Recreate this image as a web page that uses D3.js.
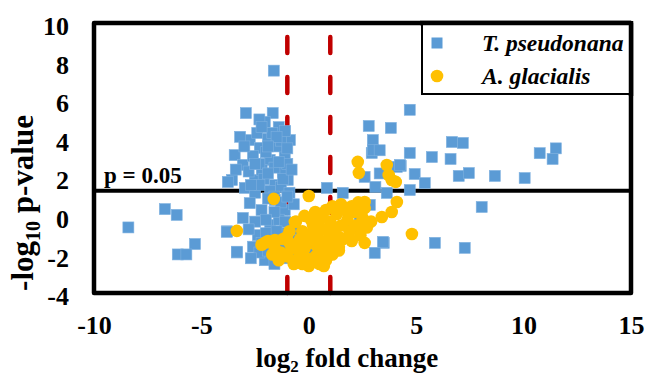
<!DOCTYPE html>
<html>
<head>
<meta charset="utf-8">
<script src="https://cdn.jsdelivr.net/npm/d3@7"></script>
<style>
  body { margin: 0; background: #fff; }
  svg text { font-family: "Liberation Serif", "Times New Roman", serif !important; font-weight: bold; }
</style>
</head>
<body>
<div id="chart"></div>
<script>
const width = 647;
const height = 376;

// T. pseudonana [log2 fold change, -log10 p-value]
const tPseudonana = [
    [-8.4, -0.6], [-6.7, 0.35], [-6.15, 0.05], [-5.3, -1.46], [-6.1, -2.0], [-5.7, -2.0],
    [-3.8, -0.8], [-3.35, -1.9], [-1.63, 7.53],
    [10.05, 1.96], [10.75, 3.25], [11.5, 3.5], [11.35, 2.95], [8.66, 2.07], [8.05, 0.46],
    [7.26, -1.66], [5.87, -1.4], [6.66, 3.83], [7.17, 3.78], [6.98, 2.07], [7.45, 2.22],
    [6.6, 2.95], [5.73, 3.05], [4.7, 5.5], [3.82, 4.56], [4.7, 3.26], [4.28, 2.59],
    [4.93, 2.17], [5.4, 1.7], [4.7, 1.34], [3.63, 1.19], [3.49, -1.4], [2.93, 3.26],
    [2.79, 4.66], [2.98, 3.93], [2.98, 3.42], [4.1, 2.54], [2.6, 2.02], [4.24, 2.64],
    [3.3, 3.4], [0.84, 1.45], [1.58, 1.19], [2.05, -0.63], [3.07, -1.92], [3.45, -1.35],
    [0.98, -1.25], [0.05, -1.77], [-0.42, -1.0], [2.37, 0.05], [2.84, 0.57], [3.1, 1.5], [3.3, 2.2],
    [-2.93, 5.33], [-1.68, 5.33], [-1.4, 4.6], [-2.05, 4.87], [-2.75, 3.93], [-3.2, 4.1],
    [-3.45, 3.15], [-3.07, 2.64], [-3.58, 1.86], [-3.77, 1.76], [-2.28, 3.52], [-1.82, 2.9],
    [-1.21, 2.27], [-2.51, 1.86], [-1.12, 3.15], [-2.19, 2.38], [-1.58, 1.6], [-2.98, 1.45],
    [-0.88, 3.93], [-0.98, 1.86], [-2.4, 4.3], [-1.9, 4.0], [-1.5, 3.6], [-2.6, 3.1],
    [-2.0, 3.3], [-1.3, 3.9], [-2.3, 2.7], [-1.6, 2.5], [-1.0, 2.7], [-2.8, 2.3],
    [-2.1, 1.9], [-1.3, 1.5], [-0.9, 1.2], [-2.5, 1.2], [-1.8, 1.3], [-3.4, 2.4],
    [-3.0, 3.6], [-2.3, 5.0], [-1.7, 4.3], [-1.1, 4.4],
    [-2.2, 4.6], [-1.5, 4.1], [-1.9, 3.6], [-2.5, 2.7], [-1.4, 2.8], [-1.9, 2.2],
    [-1.2, 1.9], [-2.3, 1.6], [-1.6, 1.0], [-2.7, 1.6], [-0.8, 2.4], [-1.0, 3.5],
    [-2.75, 0.66], [-3.07, -0.11], [-3.82, -0.83], [-3.35, -1.86], [-2.6, -1.6], [-2.05, -2.3],
    [-1.35, -2.0], [-0.88, -1.25], [-1.8, -0.47], [-2.37, -1.0], [-1.12, 0.3], [-0.65, -0.47],
    [-1.58, 0.82], [-2.2, 0.3], [-1.9, 0.9], [-1.3, 0.7], [-2.5, -0.3], [-1.4, -0.2],
    [-2.0, -0.9], [-1.1, -0.9], [-2.8, -0.7], [-1.7, -1.4], [-2.3, -1.9], [-1.2, -1.6],
    [-0.9, -2.2], [-2.7, -2.2], [-1.6, -2.5], [-0.7, 0.6], [-1.0, 1.0],
    [-1.6, 0.2], [-2.0, -0.2], [-1.1, -0.3], [-1.5, -0.8], [-2.2, -1.4], [-1.9, -1.8]
];

// A. glacialis
const aGlacialis = [
    [-1.63, 0.88], [0.0, 1.03], [-3.35, -0.78], [4.8, -0.94], [4.1, 0.72], [3.86, 0.2],
    [3.4, -0.06], [2.6, 0.72], [2.28, 2.8], [2.33, 2.23], [3.63, 2.64], [3.72, 2.12],
    [4.05, 1.76], [3.86, 1.86], [-2.05, -1.4], [-1.58, -1.25], [-1.02, -1.09], [-0.65, -0.32],
    [-2.2, -1.5], [-1.9, -1.3], [-1.6, -1.6], [-1.3, -1.9], [-1.0, -2.1], [-0.8, -1.7],
    [-0.6, -2.3], [-0.4, -2.0], [-0.3, -2.5], [-0.1, -2.2], [0.0, -2.6], [0.2, -2.4],
    [0.3, -2.1], [0.5, -2.5], [0.6, -1.9], [0.8, -2.3], [0.9, -1.7], [1.1, -2.0],
    [1.2, -1.5], [1.4, -1.8], [-1.2, -1.2], [-0.9, -1.4], [-0.5, -1.5], [-0.2, -1.7],
    [0.1, -1.4], [0.4, -1.6], [-1.7, -2.0], [-1.4, -2.3], [-0.7, -2.5], [0.7, -2.6],
    [-0.6, -0.3], [-0.3, -0.8], [0.0, -1.0], [0.2, -0.5], [0.4, -1.1], [0.5, -0.2],
    [0.7, -0.7], [0.9, -1.2], [1.0, -0.3], [1.2, -0.9], [1.3, 0.1], [1.5, -0.5],
    [1.6, -1.2], [1.8, -0.2], [1.9, -0.8], [2.1, 0.2], [2.2, -0.5], [2.4, -1.0],
    [2.5, -0.1], [2.7, -0.6], [2.9, -0.3], [2.6, -1.4], [1.1, 0.5], [0.8, 0.3],
    [1.5, 0.6], [1.7, 0.3], [2.0, 0.5], [0.3, 0.2], [-0.2, 0.0], [-0.9, -0.8],
    [0.6, -1.4], [1.4, -1.6], [2.0, -1.3], [2.3, 0.7], [2.6, 0.4],
    [0.1, -0.2], [0.6, 0.0], [1.0, -0.6], [1.4, -1.1], [0.3, -0.8], [-0.4, -1.2]
];

const xTicks = [-10, -5, 0, 5, 10, 15];
const yTicks = [-4, -2, 0, 2, 4, 6, 8, 10];
const foldCut = [-1, 1];
const pCut = -Math.log10(0.05);
const seriesNames = ["T. pseudonana", "A. glacialis"];

const serif = '"Liberation Serif", "Times New Roman", serif';
const blue = "#5b9bd5";
const gold = "#ffc000";

let svg = d3.select("#chart").append("svg")
    .attr("width", width)
    .attr("height", height)
    .attr("font-family", serif);

let x = d3.scaleLinear().domain([-10, 15]).range([94, 631]);
let y = d3.scaleLinear().domain([-4, 10]).range([293, 23]);

// axes (labels only, no tick marks), plain hyphen for negatives
let xAxis = svg.append("g")
    .attr("transform", `translate(0,${y(-4)})`)
    .call(d3.axisBottom(x).tickValues(xTicks).tickFormat(d => String(d)).tickSize(0).tickPadding(23));
let yAxis = svg.append("g")
    .attr("transform", `translate(${x(-10)},0)`)
    .call(d3.axisLeft(y).tickValues(yTicks).tickFormat(d => String(d)).tickSize(0).tickPadding(25));
[xAxis, yAxis].forEach(a => {
    a.attr("font-family", serif).attr("font-size", 26).attr("font-weight", "bold");
    a.select(".domain").remove();
    a.selectAll("text").attr("fill", "#000");
});
yAxis.selectAll("text").attr("dy", "0.45em");

// threshold lines
svg.selectAll(".fold")
    .data(foldCut)
    .enter()
    .append("line")
    .attr("x1", d => x(d)).attr("x2", d => x(d))
    .attr("y1", y(10)).attr("y2", y(-4))
    .attr("stroke", "#c00000")
    .attr("stroke-width", 4.5)
    .attr("stroke-linecap", "round")
    .attr("stroke-dasharray", "16,24")
    .attr("stroke-dashoffset", 26);

svg.append("line")
    .attr("x1", x(-10)).attr("x2", x(15))
    .attr("y1", y(pCut)).attr("y2", y(pCut))
    .attr("stroke", "#000")
    .attr("stroke-width", 4);

svg.append("text")
    .attr("x", 104).attr("y", 183)
    .attr("font-size", 23)
    .text("p = 0.05");

// points
const sq = 11;
svg.append("g").selectAll("rect")
    .data(tPseudonana)
    .enter()
    .append("rect")
    .attr("x", d => x(d[0]) - sq / 2)
    .attr("y", d => y(d[1]) - sq / 2)
    .attr("width", sq).attr("height", sq)
    .attr("fill", blue)
    .attr("stroke", "#7fb1e0")
    .attr("stroke-width", 0.6);

svg.append("g").selectAll("circle")
    .data(aGlacialis)
    .enter()
    .append("circle")
    .attr("cx", d => x(d[0]))
    .attr("cy", d => y(d[1]))
    .attr("r", 6.3)
    .attr("fill", gold);

// frame
svg.append("rect")
    .attr("x", x(-10)).attr("y", y(10))
    .attr("width", x(15) - x(-10)).attr("height", y(-4) - y(10))
    .attr("fill", "none")
    .attr("stroke", "#000")
    .attr("stroke-width", 4.5)
    .attr("stroke-linejoin", "round");

// legend
let legend = svg.append("g");
legend.append("rect")
    .attr("x", 422).attr("y", y(10))
    .attr("width", x(15) - 422).attr("height", 94 - y(10))
    .attr("fill", "#fff")
    .attr("stroke", "#000")
    .attr("stroke-width", 2);
legend.append("line")
    .attr("x1", 420).attr("x2", x(15))
    .attr("y1", y(10)).attr("y2", y(10))
    .attr("stroke", "#000").attr("stroke-width", 4.5);
legend.append("line")
    .attr("x1", x(15)).attr("x2", x(15))
    .attr("y1", y(10) - 2).attr("y2", 96)
    .attr("stroke", "#000").attr("stroke-width", 4.5);
legend.append("rect")
    .attr("x", 437 - 5.5).attr("y", 43 - 5.5)
    .attr("width", sq).attr("height", sq)
    .attr("fill", blue);
legend.append("circle")
    .attr("cx", 437).attr("cy", 76).attr("r", 6.3)
    .attr("fill", gold);
legend.selectAll(".lab")
    .data(seriesNames)
    .enter()
    .append("text")
    .attr("x", 482)
    .attr("y", (d, i) => 51 + i * 33)
    .attr("font-size", 23.5)
    .attr("font-style", "italic")
    .text(d => d);

// axis titles
let xt = svg.append("text")
    .attr("x", 347).attr("y", 367)
    .attr("text-anchor", "middle")
    .attr("font-size", 27);
xt.append("tspan").text("log");
xt.append("tspan").attr("dy", 5).attr("font-size", 17).text("2");
xt.append("tspan").attr("dy", -5).text(" fold change");

let yt = svg.append("text")
    .attr("transform", "translate(33,203) rotate(-90)")
    .attr("text-anchor", "middle")
    .attr("font-size", 31);
yt.append("tspan").text("-log");
yt.append("tspan").attr("dy", 7).attr("font-size", 20).text("10");
yt.append("tspan").attr("dy", -7).text(" p-value");
</script>
</body>
</html>
